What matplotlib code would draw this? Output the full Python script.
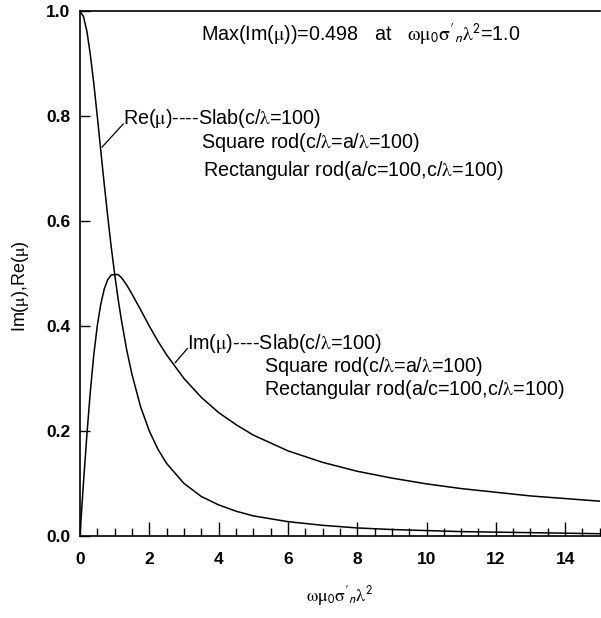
import numpy as np
import matplotlib
matplotlib.use("Agg")
import matplotlib.pyplot as plt
from matplotlib.ticker import MultipleLocator

plt.rcParams['font.family'] = ['Liberation Sans', 'DejaVu Sans']
plt.rcParams['mathtext.fontset'] = 'stix'

# values
x = [0, 0.1, 0.2, 0.3, 0.4, 0.5, 0.6, 0.7, 0.8, 0.9, 1.0, 1.1, 1.2, 1.35, 1.5,
     1.75, 2.0, 2.25, 2.5, 3.0, 3.5, 4.0, 4.5, 5, 6, 7, 8, 9, 10, 11, 12, 13, 14, 15]
re_mu = [1.0, 0.99, 0.962, 0.917, 0.862, 0.80, 0.735, 0.671, 0.61, 0.552, 0.50,
         0.452, 0.41, 0.354, 0.308, 0.246, 0.20, 0.165, 0.138, 0.10, 0.075, 0.059,
         0.047, 0.038, 0.027, 0.020, 0.015, 0.012, 0.010, 0.008, 0.007, 0.006,
         0.005, 0.004]
im_mu = [0.0, 0.099, 0.192, 0.275, 0.345, 0.40, 0.441, 0.470, 0.488, 0.497, 0.498,
         0.498, 0.492, 0.478, 0.461, 0.431, 0.40, 0.371, 0.345, 0.30, 0.264, 0.235,
         0.212, 0.192, 0.162, 0.14, 0.123, 0.110, 0.099, 0.090, 0.083, 0.076,
         0.071, 0.066]

mu = r'$\mathrm{\mu}$'
lam = r'$\mathrm{\lambda}$'
wmsl = r"$\mathrm{\omega\mu}_{\mathsf{0}}\mathrm{\sigma}'_{\mathsf{n}}\mathrm{\lambda}^{\mathsf{2}}$"

fig = plt.figure(figsize=(6.01, 6.18), dpi=100)
ax = fig.add_axes([0.133, 0.133, 0.865, 0.849])

ax.plot(x, re_mu, color='black', lw=1.1)
ax.plot(x, im_mu, color='black', lw=1.1)

ax.set_xlim(0, 15)
ax.set_ylim(0, 1.0)
ax.xaxis.set_major_locator(MultipleLocator(2))
ax.xaxis.set_minor_locator(MultipleLocator(0.5))
ax.yaxis.set_major_locator(MultipleLocator(0.2))
ax.yaxis.set_major_formatter(plt.FormatStrFormatter('%.1f'))
ax.tick_params(axis='x', which='major', direction='in', length=10, width=1, pad=12,
               labelsize=12.5)
ax.tick_params(axis='x', which='minor', direction='in', length=6, width=1)
ax.tick_params(axis='y', which='major', direction='in', length=7, width=1, pad=7,
               labelsize=12.5)
for lab in ax.get_xticklabels() + ax.get_yticklabels():
    lab.set_fontweight('bold')
ax.spines['right'].set_visible(False)
for s in ['left', 'bottom', 'top']:
    ax.spines[s].set_linewidth(1.2)

ax.set_xlabel(wmsl, fontsize=13, labelpad=12)
ax.set_ylabel("Im(" + mu + "),Re(" + mu + ")", fontsize=13)
ax.yaxis.set_label_coords(-0.095, 0.476)

fs = 14.2
ax.text(3.48, 0.954, "Max(Im(" + mu + "))=0.498   at   " + wmsl + "=1.0",
        fontsize=fs, va='center')
ax.text(1.25, 0.796, "Re(" + mu + ")----Slab(c/" + lam + "=100)", fontsize=fs, va='center')
ax.text(3.48, 0.749, "Square rod(c/" + lam + "=a/" + lam + "=100)", fontsize=fs, va='center')
ax.text(3.55, 0.697, "Rectangular rod(a/c=100,c/" + lam + "=100)", fontsize=fs, va='center')
ax.text(3.1, 0.366, "Im(" + mu + ")----Slab(c/" + lam + "=100)", fontsize=fs, va='center')
ax.text(5.3, 0.322, "Square rod(c/" + lam + "=a/" + lam + "=100)", fontsize=fs, va='center')
ax.text(5.3, 0.278, "Rectangular rod(a/c=100,c/" + lam + "=100)", fontsize=fs, va='center')

# leader lines from labels to curves
ax.plot([1.25, 0.64], [0.785, 0.741], color='black', lw=0.9)
ax.plot([3.1, 2.75], [0.357, 0.33], color='black', lw=0.9)

fig.savefig('out.png', dpi=100)
